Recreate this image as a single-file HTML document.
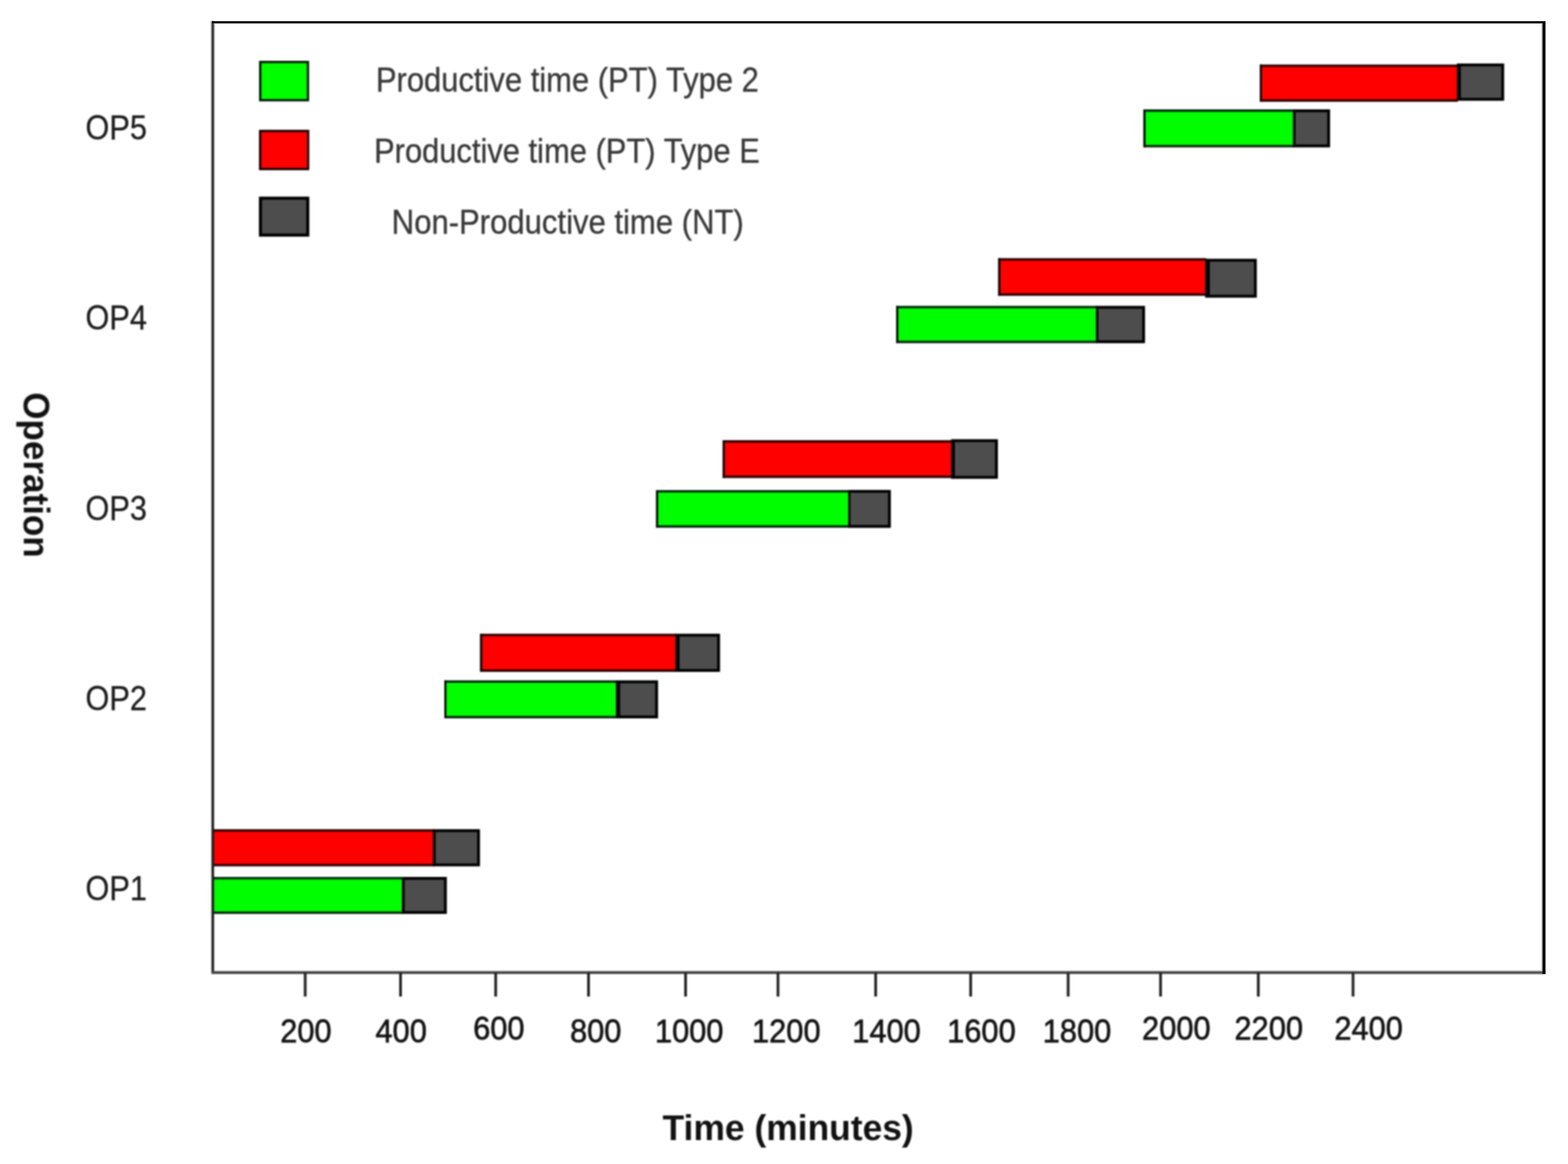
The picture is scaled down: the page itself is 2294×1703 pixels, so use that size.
<!DOCTYPE html>
<html lang="en">
<head>
<meta charset="utf-8">
<title>Operation schedule – productive and non-productive time</title>
<style>
  html, body { margin: 0; padding: 0; background: #ffffff; }
  body { width: 2294px; height: 1703px; overflow: hidden; }
  svg { display: block; }
  text { font-family: "Liberation Sans", Arial, Helvetica, sans-serif; }
  .soft { filter: blur(0.8px); }
  .tk { fill: #141414; stroke: #141414; stroke-width: 0.9px; }
  .yl { fill: #1c1c1c; stroke: #1c1c1c; stroke-width: 0.4px; }
  .lg { fill: #383838; stroke: #383838; stroke-width: 0.45px; }
  .ax { fill: #111; font-weight: 700; }
</style>
</head>
<body>
<svg width="2294" height="1703" viewBox="0 0 2294 1703" role="img" aria-label="Gantt chart of operations OP1 to OP5 over time in minutes">
<rect x="0" y="0" width="2294" height="1703" fill="#ffffff"/>
<g id="bars" class="soft">
<rect x="1843.00" y="94.40" width="289.90" height="54.50" fill="#300000"/>
<rect x="1843.00" y="94.40" width="3.20" height="54.50" fill="#0a0a0a"/>
<rect x="2131.40" y="92.90" width="69.20" height="54.50" fill="#000"/>
<rect x="1846.20" y="98.00" width="285.20" height="47.30" fill="#fe0000"/>
<rect x="2137.20" y="97.10" width="59.20" height="46.10" fill="#4d4d4d"/>
<rect x="1672.80" y="160.00" width="220.20" height="55.60" fill="#002a0c"/>
<rect x="1672.80" y="160.00" width="3.20" height="55.60" fill="#0a0a0a"/>
<rect x="1891.50" y="160.00" width="54.40" height="55.60" fill="#000"/>
<rect x="1676.00" y="163.60" width="215.50" height="48.40" fill="#00fd00"/>
<rect x="1895.40" y="164.20" width="46.30" height="47.20" fill="#4d4d4d"/>
<rect x="1460.40" y="377.70" width="304.20" height="55.10" fill="#300000"/>
<rect x="1460.40" y="377.70" width="3.20" height="55.10" fill="#0a0a0a"/>
<rect x="1763.10" y="378.60" width="75.60" height="56.90" fill="#000"/>
<rect x="1463.60" y="381.30" width="299.50" height="47.90" fill="#fe0000"/>
<rect x="1770.00" y="382.80" width="64.50" height="48.50" fill="#4d4d4d"/>
<rect x="1311.10" y="447.50" width="293.70" height="54.60" fill="#002a0c"/>
<rect x="1311.10" y="447.50" width="3.20" height="54.60" fill="#0a0a0a"/>
<rect x="1603.30" y="447.50" width="71.90" height="54.60" fill="#000"/>
<rect x="1314.30" y="451.10" width="289.00" height="47.40" fill="#00fd00"/>
<rect x="1607.00" y="451.70" width="64.00" height="46.20" fill="#4d4d4d"/>
<rect x="1057.30" y="644.00" width="335.60" height="55.40" fill="#300000"/>
<rect x="1057.30" y="644.00" width="3.20" height="55.40" fill="#0a0a0a"/>
<rect x="1391.40" y="642.60" width="68.50" height="57.90" fill="#000"/>
<rect x="1060.50" y="647.60" width="330.90" height="48.20" fill="#fe0000"/>
<rect x="1397.00" y="646.80" width="58.70" height="49.50" fill="#4d4d4d"/>
<rect x="959.80" y="717.00" width="282.60" height="55.10" fill="#002a0c"/>
<rect x="959.80" y="717.00" width="3.20" height="55.10" fill="#0a0a0a"/>
<rect x="1240.90" y="716.80" width="62.40" height="55.50" fill="#000"/>
<rect x="963.00" y="720.60" width="277.90" height="47.90" fill="#00fd00"/>
<rect x="1244.20" y="721.00" width="54.90" height="47.10" fill="#4d4d4d"/>
<rect x="702.40" y="927.20" width="287.10" height="55.80" fill="#300000"/>
<rect x="702.40" y="927.20" width="3.20" height="55.80" fill="#0a0a0a"/>
<rect x="988.00" y="927.20" width="65.40" height="55.80" fill="#000"/>
<rect x="705.60" y="930.80" width="282.40" height="48.60" fill="#fe0000"/>
<rect x="994.20" y="931.40" width="55.00" height="47.40" fill="#4d4d4d"/>
<rect x="650.00" y="995.40" width="252.50" height="55.60" fill="#002a0c"/>
<rect x="650.00" y="995.40" width="3.20" height="55.60" fill="#0a0a0a"/>
<rect x="901.00" y="995.40" width="61.70" height="55.60" fill="#000"/>
<rect x="653.20" y="999.00" width="247.80" height="48.40" fill="#00fd00"/>
<rect x="907.30" y="999.60" width="51.20" height="47.20" fill="#4d4d4d"/>
<rect x="311.00" y="1213.20" width="323.70" height="54.30" fill="#300000"/>
<rect x="633.20" y="1213.20" width="69.00" height="54.30" fill="#000"/>
<rect x="312.20" y="1216.80" width="321.00" height="47.10" fill="#fe0000"/>
<rect x="637.40" y="1217.40" width="60.60" height="45.90" fill="#4d4d4d"/>
<rect x="311.00" y="1283.00" width="278.40" height="54.10" fill="#002a0c"/>
<rect x="587.90" y="1283.00" width="65.80" height="54.10" fill="#000"/>
<rect x="312.20" y="1286.60" width="275.70" height="46.90" fill="#00fd00"/>
<rect x="592.10" y="1287.20" width="57.40" height="45.70" fill="#4d4d4d"/>
<rect x="380.70" y="90.70" width="69.80" height="55.90" fill="#00fd00" stroke="#001a06" stroke-width="3.4"/>
<rect x="380.60" y="191.60" width="70.20" height="55.70" fill="#fe0000" stroke="#1c0000" stroke-width="3.4"/>
<rect x="381.05" y="289.95" width="69.20" height="54.00" fill="#4d4d4d" stroke="#000" stroke-width="4.5"/>
<rect x="309.4" y="31" width="3.8" height="1394" fill="#1a1a1a"/>
<rect x="309.8" y="1420.8" width="1951" height="4.2" fill="#454545"/>
<rect x="444.5" y="1423" width="4" height="35" fill="#222"/>
<rect x="584.0" y="1423" width="4" height="35" fill="#222"/>
<rect x="723.2" y="1423" width="4" height="35" fill="#222"/>
<rect x="859.0" y="1423" width="4" height="35" fill="#222"/>
<rect x="1001.0" y="1423" width="4" height="35" fill="#222"/>
<rect x="1136.2" y="1423" width="4" height="35" fill="#222"/>
<rect x="1279.1" y="1423" width="4" height="35" fill="#222"/>
<rect x="1418.1" y="1423" width="4" height="35" fill="#222"/>
<rect x="1560.7" y="1423" width="4" height="35" fill="#222"/>
<rect x="1695.9" y="1423" width="4" height="35" fill="#222"/>
<rect x="1838.9" y="1423" width="4" height="35" fill="#222"/>
<rect x="1977.5" y="1423" width="4" height="35" fill="#222"/>
</g>
<g id="frame">
<rect x="310" y="31" width="1951" height="3" fill="#000"/>
<rect x="313" y="34" width="1943" height="1" fill="#b4b4b4"/>
<rect x="2256.6" y="31" width="4.5" height="1394" fill="#000"/>
<rect x="2255.4" y="35" width="1.2" height="1386" fill="#9a9a9a"/>
</g>
<g id="labels" class="soft">
<text class="tk" font-size="48.5" transform="translate(410.00,1524.90) scale(0.9290,1)">200</text>
<text class="tk" font-size="48.5" transform="translate(549.30,1524.90) scale(0.9290,1)">400</text>
<text class="tk" font-size="48.5" transform="translate(692.20,1521.30) scale(0.9290,1)">600</text>
<text class="tk" font-size="48.5" transform="translate(833.90,1524.90) scale(0.9290,1)">800</text>
<text class="tk" font-size="48.5" transform="translate(958.15,1524.90) scale(0.9290,1)">1000</text>
<text class="tk" font-size="48.5" transform="translate(1100.25,1524.90) scale(0.9290,1)">1200</text>
<text class="tk" font-size="48.5" transform="translate(1246.85,1524.90) scale(0.9290,1)">1400</text>
<text class="tk" font-size="48.5" transform="translate(1385.75,1524.90) scale(0.9290,1)">1600</text>
<text class="tk" font-size="48.5" transform="translate(1525.55,1524.90) scale(0.9290,1)">1800</text>
<text class="tk" font-size="48.5" transform="translate(1670.85,1521.30) scale(0.9290,1)">2000</text>
<text class="tk" font-size="48.5" transform="translate(1806.05,1521.30) scale(0.9290,1)">2200</text>
<text class="tk" font-size="48.5" transform="translate(1952.15,1521.30) scale(0.9290,1)">2400</text>
<text class="yl" font-size="49" transform="translate(125.10,204.00) scale(0.9180,1.035)">OP5</text>
<text class="yl" font-size="49" transform="translate(125.10,482.35) scale(0.9180,1.035)">OP4</text>
<text class="yl" font-size="49" transform="translate(125.10,760.70) scale(0.9180,1.035)">OP3</text>
<text class="yl" font-size="49" transform="translate(125.10,1039.05) scale(0.9180,1.035)">OP2</text>
<text class="yl" font-size="49" transform="translate(125.10,1317.40) scale(0.9180,1.035)">OP1</text>
<text class="lg" font-size="50" transform="translate(549.88,133.90) scale(0.9060,1)">Productive time (PT) Type 2</text>
<text class="lg" font-size="50" transform="translate(547.18,238.30) scale(0.9043,1)">Productive time (PT) Type E</text>
<text class="lg" font-size="50" transform="translate(573.06,342.20) scale(0.9092,1)">Non-Productive time (NT)</text>
<text class="ax" font-size="51" transform="translate(969.28,1667.90) scale(1.0162,1)">Time (minutes)</text>
<text class="ax" font-size="53" transform="translate(34.8,573.85) rotate(90) scale(0.9675,1)">Operation</text>
</g>
</svg>
</body>
</html>
